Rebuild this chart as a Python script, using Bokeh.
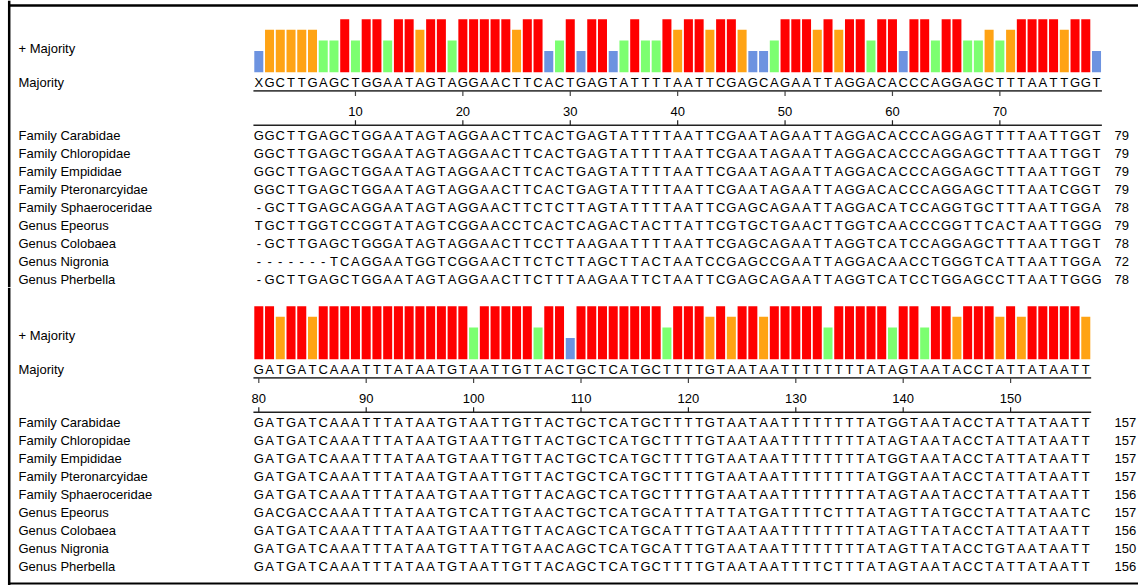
from bokeh.plotting import figure
from bokeh.models import Range1d, ColumnDataSource
from bokeh.layouts import column
from bokeh.embed import file_html
from bokeh.resources import INLINE
from bokeh.core.properties import value

# ---------------- data ----------------
names = ["Family Carabidae", "Family Chloropidae", "Family Empididae",
         "Family Pteronarcyidae", "Family Sphaeroceridae", "Genus Epeorus",
         "Genus Colobaea", "Genus Nigronia", "Genus Pherbella"]

majority1 = "XGCTTGAGCTGGAATAGTAGGAACTTCACTGAGTATTTTAATTCGAGCAGAATTAGGACACCCAGGAGCTTTAATTGGT"
seqs1 = [
    "GGCTTGAGCTGGAATAGTAGGAACTTCACTGAGTATTTTAATTCGAATAGAATTAGGACACCCAGGAGTTTTAATTGGT",
    "GGCTTGAGCTGGAATAGTAGGAACTTCACTGAGTATTTTAATTCGAATAGAATTAGGACACCCAGGAGCTTTAATTGGT",
    "GGCTTGAGCTGGAATAGTAGGAACTTCACTGAGTATTTTAATTCGAATAGAATTAGGACACCCAGGAGCTTTAATTGGT",
    "GGCTTGAGCTGGAATAGTAGGAACTTCACTGAGTATTTTAATTCGAATAGAATTAGGACACCCAGGAGCTTTAATCGGT",
    "-GCTTGAGCAGGAATAGTAGGAACTTCTCTTAGTATTTTAATTCGAGCAGAATTAGGACATCCAGGTGCTTTAATTGGA",
    "TGCTTGGTCCGGTATAGTCGGAACCTCACTCAGACTACTTATTCGTGCTGAACTTGGTCAACCCGGTTCACTAATTGGG",
    "-GCTTGAGCTGGGATAGTAGGAACTTCCTTAAGAATTTTAATTCGAGCAGAATTAGGTCATCCAGGAGCTTTAATTGGT",
    "-------TCAGGAATGGTCGGAACTTCTCTTAGCTTACTAATCCGAGCCGAATTAGGACAACCTGGGTCATTAATTGGA",
    "-GCTTGAGCTGGAATAGTAGGAACTTCTTTAAGAATTCTAATTCGAGCAGAATTAGGTCATCCTGGAGCCTTAATTGGG",
]
levels1 = [2, 4, 4, 4, 4, 4, 3, 3, 5, 3,
           5, 5, 3, 5, 5, 4, 5, 5, 3, 5,
           5, 5, 5, 5, 4, 5, 5, 2, 3, 5,
           2, 5, 5, 2, 3, 5, 3, 3, 5, 4,
           5, 5, 4, 5, 5, 4, 2, 2, 3, 5,
           5, 5, 4, 5, 4, 5, 5, 3, 5, 5,
           2, 5, 5, 3, 5, 5, 3, 3, 4, 3,
           4, 5, 5, 5, 5, 4, 5, 5, 2]
ends1 = [79, 79, 79, 79, 78, 79, 78, 72, 78]
ticks1 = [10, 20, 30, 40, 50, 60, 70]

majority2 = "GATGATCAAATTTATAATGTAATTGTTACTGCTCATGCTTTTGTAATAATTTTTTTTATAGTAATACCTATTATAATT"
seqs2 = [
    "GATGATCAAATTTATAATGTAATTGTTACTGCTCATGCTTTTGTAATAATTTTTTTTATGGTAATACCTATTATAATT",
    "GATGATCAAATTTATAATGTAATTGTTACTGCTCATGCTTTTGTAATAATTTTTTTTATAGTAATACCTATTATAATT",
    "GATGATCAAATTTATAATGTAATTGTTACTGCTCATGCTTTTGTAATAATTTTTTTTATGGTAATACCTATTATAATT",
    "GATGATCAAATTTATAATGTAATTGTTACTGCTCATGCTTTTGTAATAATTTTTTTTATGGTAATACCTATTATAATT",
    "GATGATCAAATTTATAATGTAATTGTTACAGCTCATGCTTTTGTAATAATTTTTTTTATAGTAATACCTATTATAATT",
    "GACGACCAAATTTATAATGTCATTGTAACTGCTCATGCATTTATTATGATTTTCTTTATAGTTATGCCTATTATAATC",
    "GATGATCAAATTTATAATGTAATTGTTACAGCTCATGCATTTGTAATAATTTTTTTTATAGTTATACCTATTATAATT",
    "GATGATCAAATTTATAATGTTATTGTAACAGCTCATGCATTTGTAATAATTTTTTTTATAGTTATACCTGTAATAATT",
    "GATGATCAAATTTATAATGTAATTGTTACAGCTCATGCTTTTGTAATAATTTTCTTTATAGTAATACCTATTATAATT",
]
levels2 = [5, 5, 4, 5, 5, 4, 5, 5, 5, 5,
           5, 5, 5, 5, 5, 5, 5, 5, 5, 5,
           3, 5, 5, 5, 5, 5, 3, 5, 5, 2,
           5, 5, 5, 5, 5, 5, 5, 5, 3, 5,
           5, 5, 4, 5, 4, 5, 5, 4, 5, 5,
           5, 5, 5, 3, 5, 5, 5, 5, 5, 3,
           5, 5, 3, 5, 5, 4, 5, 5, 5, 4,
           5, 4, 5, 5, 5, 5, 5, 4]
ends2 = [157, 157, 157, 157, 156, 157, 156, 150, 156]
ticks2 = [80, 90, 100, 110, 120, 130, 140, 150]

level_colors = {5: "#ff0000", 4: "#ffa314", 3: "#7cff70", 2: "#6d93e0"}

# ---------------- layout constants (pixels) ----------------
W = 1138
COLW = 10.74          # pixel width of one alignment column
X0 = 258.3            # pixel x of first column centre
FONT = "Liberation Sans"
FS = "13px"
LABEL_X = 18
NUM_X = 1114
PLUS_Y = 47.5
BASE = 71.7
UNIT = 10.6
MAJ_Y = 82
UL_Y = 90.4
TL_Y = 111.2
AX_Y = 124.8
ROW0 = 135.3
ROWSTEP = 18


def block(first_col, majority, seqs, levels, ends, ticks, H, top_border=None, bottom_border=None):
    n = len(majority)
    cols = list(range(first_col, first_col + n))
    p = figure(width=W, height=H,
               x_range=Range1d(first_col - X0 / COLW, first_col + (W - X0) / COLW),
               y_range=Range1d(H, 0),
               output_backend="svg", toolbar_location=None, min_border=0)
    p.axis.visible = False
    p.grid.visible = False
    p.outline_line_color = None
    p.extra_x_ranges = {"px": Range1d(0, W)}
    e = BASE / UNIT
    p.extra_y_ranges = {"lvl": Range1d(e - H / UNIT, e)}

    # consensus strength bars
    p.vbar(x=cols, width=0.84, bottom=0, top=levels,
           fill_color=[level_colors[v] for v in levels], line_color=None,
           y_range_name="lvl")

    # labels at left
    lab_names = ["+ Majority", "Majority"] + names
    lab_y = [PLUS_Y, MAJ_Y] + [ROW0 + ROWSTEP * i for i in range(len(names))]
    p.text(x=[LABEL_X] * len(lab_names), y=lab_y, text=lab_names,
           x_range_name="px", text_align="left", text_baseline="middle",
           text_font=value(FONT), text_font_size=FS, text_color="black")

    # sequence letters
    xs, ys, tx = [], [], []
    for c, ch in zip(cols, majority):
        xs.append(c); ys.append(MAJ_Y); tx.append(ch)
    for i, s in enumerate(seqs):
        for c, ch in zip(cols, s):
            xs.append(c); ys.append(ROW0 + ROWSTEP * i); tx.append(ch)
    src = ColumnDataSource(dict(x=xs, y=ys, t=tx))
    p.text(x="x", y="y", text="t", source=src, text_align="center",
           text_baseline="middle", text_font=value(FONT), text_font_size=FS,
           text_color="black")

    # row end numbers
    p.text(x=[NUM_X] * len(ends), y=[ROW0 + ROWSTEP * i for i in range(len(ends))],
           text=[str(v) for v in ends], x_range_name="px", text_align="left",
           text_baseline="middle", text_font=value(FONT), text_font_size=FS,
           text_color="black")

    # majority underline with ticks
    lo, hi = first_col - 0.5, first_col + n - 0.5
    p.line(x=[lo, hi], y=[UL_Y, UL_Y], line_color="#444444", line_width=1.6)
    p.segment(x0=ticks, x1=ticks, y0=[UL_Y] * len(ticks), y1=[UL_Y + 5] * len(ticks),
              line_color="#444444", line_width=1.2)
    # ruler
    p.text(x=ticks, y=[TL_Y] * len(ticks), text=[str(t) for t in ticks],
           text_align="center", text_baseline="middle", text_font=value(FONT),
           text_font_size=FS, text_color="black")
    p.line(x=[lo, hi], y=[AX_Y, AX_Y], line_color="#222222", line_width=1.6)
    p.segment(x0=ticks, x1=ticks, y0=[AX_Y] * len(ticks), y1=[AX_Y - 5] * len(ticks),
              line_color="#222222", line_width=1.2)

    # frame
    p.line(x=[8.7, 8.7], y=[0, H], x_range_name="px", line_color="black", line_width=2.5)
    if top_border is not None:
        p.line(x=[7.5, W], y=[top_border, top_border], x_range_name="px",
               line_color="black", line_width=2.5)
    if bottom_border is not None:
        p.line(x=[7.5, W], y=[bottom_border, bottom_border], x_range_name="px",
               line_color="black", line_width=2)
    return p


p1 = block(1, majority1, seqs1, levels1, ends1, ticks1, 287, top_border=5)
p2 = block(80, majority2, seqs2, levels2, ends2, ticks2, 298, bottom_border=296)
layout = column(p1, p2, spacing=0)

open("out.html", "w").write(file_html(layout, INLINE))
